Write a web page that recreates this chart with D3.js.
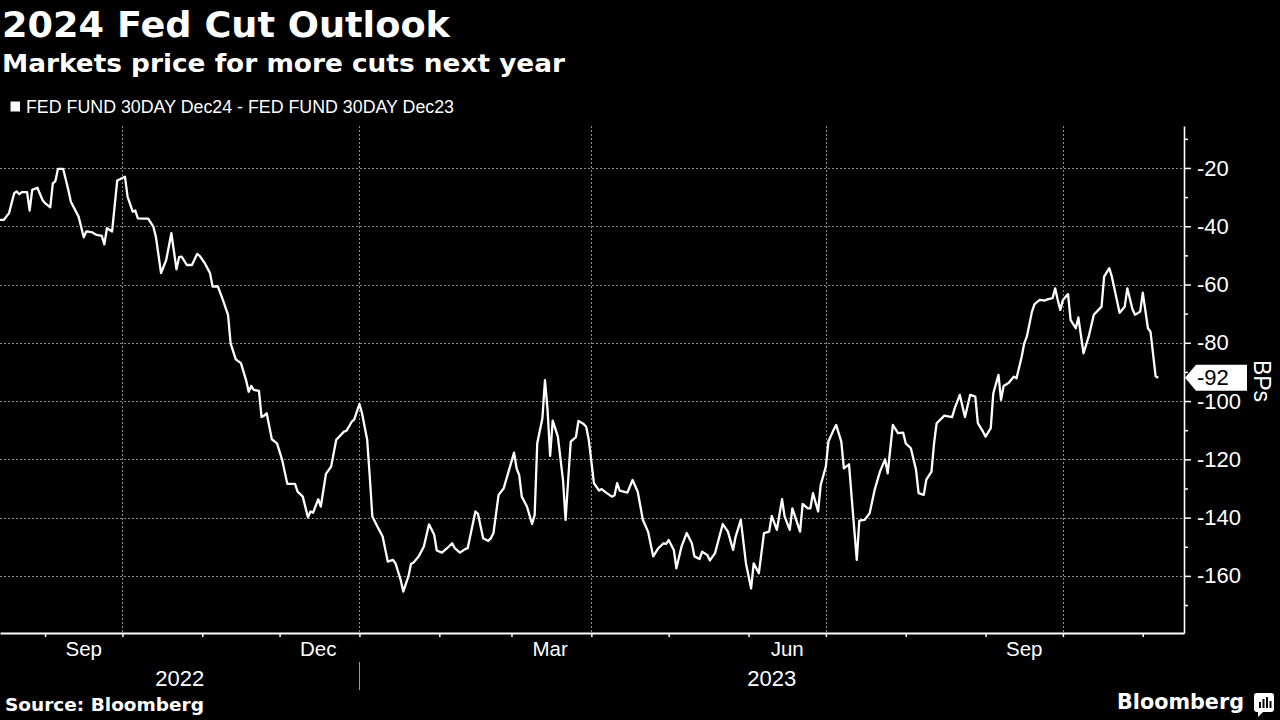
<!DOCTYPE html>
<html><head><meta charset="utf-8">
<script src="https://cdn.jsdelivr.net/npm/d3@7"></script>
<style>html,body{margin:0;padding:0;background:#000;}svg{display:block}</style>
</head><body>
<svg id="c" width="1280" height="720"></svg>
<script>
// ---------- DATA ----------
const dates = [
"2022-08-14","2022-08-16","2022-08-18","2022-08-20","2022-08-21","2022-08-22","2022-08-23","2022-08-25","2022-08-26","2022-08-27",
"2022-08-29","2022-08-31","2022-09-01","2022-09-03","2022-09-04","2022-09-05","2022-09-06","2022-09-08","2022-09-10","2022-09-11",
"2022-09-14","2022-09-16","2022-09-17","2022-09-19","2022-09-21","2022-09-23","2022-09-24","2022-09-25","2022-09-27","2022-09-29",
"2022-09-30","2022-10-02","2022-10-03","2022-10-05","2022-10-06","2022-10-07","2022-10-09","2022-10-11","2022-10-13","2022-10-14",
"2022-10-16","2022-10-18","2022-10-20","2022-10-22","2022-10-23","2022-10-24","2022-10-26","2022-10-28","2022-10-30","2022-10-31",
"2022-11-02","2022-11-04","2022-11-05","2022-11-07","2022-11-09","2022-11-11","2022-11-12","2022-11-14","2022-11-16","2022-11-18",
"2022-11-19","2022-11-20","2022-11-21","2022-11-23","2022-11-24","2022-11-25","2022-11-26","2022-11-28","2022-11-30","2022-12-02",
"2022-12-04","2022-12-07","2022-12-08","2022-12-10","2022-12-12","2022-12-13","2022-12-14","2022-12-16","2022-12-17","2022-12-19",
"2022-12-21","2022-12-23","2022-12-26","2022-12-27","2022-12-29","2022-12-30","2023-01-01","2023-01-02","2023-01-04","2023-01-05",
"2023-01-06","2023-01-08","2023-01-10","2023-01-12","2023-01-14","2023-01-15","2023-01-17","2023-01-18","2023-01-20","2023-01-21",
"2023-01-22","2023-01-24","2023-01-26","2023-01-28","2023-01-30","2023-01-31","2023-02-02","2023-02-04","2023-02-06","2023-02-07",
"2023-02-09","2023-02-11","2023-02-12","2023-02-15","2023-02-16","2023-02-18","2023-02-20","2023-02-21","2023-02-22","2023-02-24",
"2023-02-26","2023-03-02","2023-03-03","2023-03-04","2023-03-05","2023-03-07","2023-03-09","2023-03-10","2023-03-11","2023-03-13",
"2023-03-14","2023-03-15","2023-03-16","2023-03-17","2023-03-19","2023-03-21","2023-03-22","2023-03-23","2023-03-24","2023-03-26",
"2023-03-27","2023-03-29","2023-03-30","2023-03-31","2023-04-02","2023-04-04","2023-04-05","2023-04-07","2023-04-09","2023-04-10",
"2023-04-11","2023-04-12","2023-04-15","2023-04-17","2023-04-19","2023-04-21","2023-04-23","2023-04-25","2023-04-27","2023-04-29",
"2023-04-30","2023-05-01","2023-05-03","2023-05-04","2023-05-06","2023-05-08","2023-05-10","2023-05-11","2023-05-13","2023-05-14",
"2023-05-16","2023-05-17","2023-05-19","2023-05-22","2023-05-24","2023-05-26","2023-05-27","2023-05-29","2023-05-31","2023-06-02",
"2023-06-03","2023-06-05","2023-06-07","2023-06-09","2023-06-10","2023-06-12","2023-06-14","2023-06-15","2023-06-17","2023-06-18",
"2023-06-21","2023-06-22","2023-06-24","2023-06-25","2023-06-26","2023-06-28","2023-06-29","2023-07-01","2023-07-02","2023-07-04",
"2023-07-05","2023-07-07","2023-07-08","2023-07-10","2023-07-11","2023-07-13","2023-07-14","2023-07-16","2023-07-18","2023-07-20",
"2023-07-22","2023-07-24","2023-07-25","2023-07-27","2023-07-29","2023-07-31","2023-08-01","2023-08-03","2023-08-05","2023-08-06",
"2023-08-08","2023-08-09","2023-08-11","2023-08-12","2023-08-13","2023-08-16","2023-08-19","2023-08-20","2023-08-22","2023-08-24",
"2023-08-26","2023-08-28","2023-08-29","2023-08-31","2023-09-01","2023-09-03","2023-09-04","2023-09-06","2023-09-07","2023-09-08",
"2023-09-10","2023-09-12","2023-09-13","2023-09-15","2023-09-16","2023-09-17","2023-09-19","2023-09-20","2023-09-22","2023-09-24",
"2023-09-25","2023-09-27","2023-09-28","2023-09-29","2023-09-30","2023-10-01","2023-10-03","2023-10-04","2023-10-06","2023-10-07",
"2023-10-09","2023-10-11","2023-10-13","2023-10-16","2023-10-17","2023-10-19","2023-10-20","2023-10-23","2023-10-25","2023-10-26",
"2023-10-28","2023-10-29","2023-10-31","2023-11-01","2023-11-03","2023-11-04","2023-11-06","2023-11-07"
];
const bps = [
-37.8,-37.8,-35.5,-28.7,-28.1,-29.0,-28.3,-28.3,-34.6,-27.5,
-26.8,-31.0,-32.1,-33.5,-25.3,-24.5,-20.3,-20.3,-27.5,-31.6,
-36.7,-43.8,-41.8,-42.0,-43.0,-43.3,-46.2,-40.7,-41.8,-24.3,
-23.9,-23.0,-29.8,-35.0,-34.6,-37.3,-37.4,-37.4,-40.1,-43.6,
-56.1,-51.6,-42.4,-54.8,-50.6,-50.4,-53.3,-53.3,-49.5,-50.2,
-52.7,-56.1,-60.7,-60.6,-65.3,-70.4,-80.2,-85.7,-87.0,-92.8,
-96.8,-94.8,-96.2,-96.5,-105.5,-105.0,-104.2,-113.1,-114.5,-120.2,
-128.4,-128.4,-131.1,-132.8,-139.9,-137.9,-138.3,-133.7,-136.2,-125.0,
-122.5,-113.3,-110.5,-110.2,-107.1,-106.3,-101.0,-104.2,-113.3,-125.9,
-139.6,-143.1,-146.5,-155.1,-154.5,-155.7,-161.4,-165.4,-160.2,-155.9,
-155.4,-153.3,-149.9,-142.3,-145.9,-151.3,-152.0,-150.5,-148.8,-150.5,
-152.0,-150.8,-150.5,-137.9,-138.7,-147.1,-148.0,-147.1,-145.3,-132.2,
-129.9,-117.7,-123.1,-125.4,-132.8,-136.2,-142.2,-139.1,-114.5,-105.9,
-92.8,-103.0,-118.8,-106.7,-112.2,-127.1,-140.8,-127.1,-113.9,-112.4,
-106.8,-107.9,-108.8,-113.3,-128.2,-130.7,-130.2,-131.6,-132.8,-132.3,
-128.2,-130.7,-131.4,-127.1,-131.1,-140.8,-144.8,-153.3,-150.5,-148.8,
-149.0,-147.7,-151.1,-157.4,-149.9,-145.3,-148.8,-153.3,-154.2,-151.7,
-152.8,-154.7,-152.2,-142.2,-144.8,-151.1,-146.5,-140.8,-155.7,-164.3,
-155.7,-159.1,-145.3,-144.8,-139.4,-144.2,-133.7,-139.6,-144.2,-136.8,
-144.8,-135.3,-136.8,-136.8,-131.6,-137.9,-128.8,-122.5,-113.9,-109.9,
-108.2,-113.9,-123.1,-121.7,-132.8,-154.5,-141.0,-140.8,-138.5,-130.3,
-124.2,-120.0,-124.8,-108.2,-111.0,-110.8,-114.5,-116.2,-123.6,-131.6,
-132.2,-127.0,-124.2,-114.5,-107.6,-105.0,-105.5,-102.5,-97.9,-105.5,
-97.9,-98.5,-107.6,-110.5,-112.2,-109.3,-97.3,-91.0,-99.6,-94.8,
-93.7,-91.6,-92.2,-84.8,-80.2,-77.9,-69.3,-66.7,-65.3,-65.5,
-65.1,-64.7,-61.3,-65.3,-68.7,-65.3,-63.3,-72.2,-75.0,-71.3,
-83.6,-77.9,-70.4,-67.6,-57.3,-54.4,-57.3,-69.7,-67.6,-61.3,
-68.5,-70.4,-69.3,-62.8,-75.0,-76.2,-91.5,-92.0
];
const yMajorTicks = [-20,-40,-60,-80,-100,-120,-140,-160];
const yMinorTicks = [-10,-30,-50,-70,-90,-110,-130,-150,-170];
const monthTickDates = ["2022-09-01","2022-10-01","2022-11-01","2022-12-01","2023-01-01","2023-02-01","2023-03-01",
  "2023-04-01","2023-05-01","2023-06-01","2023-07-01","2023-08-01","2023-09-01","2023-10-01","2023-11-01"];
const gridDates = ["2022-10-01","2023-01-01","2023-04-01","2023-07-01","2023-10-01"];
const monthLabelDates = ["2022-09-16","2022-12-16","2023-03-16","2023-06-16","2023-09-16"];
const monthLabelTexts = ["Sep","Dec","Mar","Jun","Sep"];
const yearLabels = ["2022","2023"];
const yearBreak = "2023-01-01";
const lastValue = -92;
const titleText = "2024 Fed Cut Outlook";
const subtitleText = "Markets price for more cuts next year";
const legendText = "FED FUND 30DAY Dec24 - FED FUND 30DAY Dec23";
const sourceText = "Source: Bloomberg";
const unitText = "BPs";

// ---------- CHART ----------
(function(){
const parse = d3.utcParse("%Y-%m-%d");
const data = dates.map((d,i)=>({date: parse(d), v: bps[i]}));
const svg = d3.select("#c");
svg.append("rect").attr("width",1280).attr("height",720).attr("fill","#000");

const pL = 0, pR = 1184, pT = 126, pB = 633;
const x = d3.scaleTime()
  .domain([new Date(Date.UTC(2022,7,14,12)), new Date(Date.UTC(2023,10,17))])
  .range([pL, pR]);
const y = d3.scaleLinear().domain([-179.6, -5.6]).range([pB, pT]);

const boldFont = "'DejaVu Sans', sans-serif";
const regFont = "'Liberation Sans', Arial, sans-serif";

// titles
svg.append("text").attr("x",2).attr("y",37).attr("fill","#fff")
  .attr("font-family",boldFont).attr("font-weight","bold").attr("font-size",35)
  .attr("textLength",448).attr("lengthAdjust","spacingAndGlyphs").text(titleText);
svg.append("text").attr("x",2).attr("y",72).attr("fill","#fff")
  .attr("font-family",boldFont).attr("font-weight","bold").attr("font-size",25.5)
  .attr("textLength",563).attr("lengthAdjust","spacingAndGlyphs").text(subtitleText);
// legend
svg.append("rect").attr("x",10.5).attr("y",101.5).attr("width",9.5).attr("height",10).attr("fill","#fff");
svg.append("text").attr("x",26).attr("y",113).attr("fill","#fff")
  .attr("font-family",regFont).attr("font-size",18)
  .attr("textLength",428).attr("lengthAdjust","spacingAndGlyphs").text(legendText);

// gridlines
const grid = svg.append("g").attr("stroke","#8a8a8a").attr("stroke-width",1).attr("stroke-dasharray","2,2");
grid.selectAll("line.h").data(yMajorTicks).join("line").attr("class","h")
  .attr("x1",pL).attr("x2",pR).attr("y1",d=>Math.round(y(d))+0.5).attr("y2",d=>Math.round(y(d))+0.5);
grid.selectAll("line.v").data(gridDates).join("line").attr("class","v")
  .attr("x1",d=>Math.round(x(parse(d)))+0.5).attr("x2",d=>Math.round(x(parse(d)))+0.5)
  .attr("y1",pT).attr("y2",pB);

// line
svg.append("clipPath").attr("id","clip").append("rect").attr("x",pL).attr("y",pT).attr("width",pR-pL).attr("height",pB-pT);
svg.append("path").datum(data).attr("clip-path","url(#clip)")
  .attr("fill","none").attr("stroke","#fff").attr("stroke-width",2.3).attr("stroke-linejoin","round")
  .attr("d", d3.line().x(d=>x(d.date)).y(d=>y(d.v)));

// y axis
const yAxis = svg.append("g").attr("transform",`translate(${pR},0)`)
  .call(d3.axisRight(y).tickValues(yMajorTicks).tickSize(7).tickSizeOuter(0).tickPadding(6).tickFormat(d=>String(d)));
yAxis.select(".domain").attr("stroke","#fff").attr("stroke-width",1.6);
yAxis.selectAll(".tick line").attr("stroke","#fff").attr("stroke-width",1.5);
yAxis.selectAll(".tick text").attr("fill","#fff").attr("font-family",regFont).attr("font-size",22);
const yMinor = svg.append("g").attr("transform",`translate(${pR},0)`)
  .call(d3.axisRight(y).tickValues(yMinorTicks).tickSize(4).tickFormat(""));
yMinor.select(".domain").remove();
yMinor.selectAll(".tick line").attr("stroke","#fff").attr("stroke-width",1.5);

// x axis
const xAxis = svg.append("g").attr("transform",`translate(0,${pB})`)
  .call(d3.axisBottom(x).tickValues(monthTickDates.map(parse)).tickSize(4).tickSizeOuter(0).tickFormat(""));
xAxis.select(".domain").attr("stroke","#fff").attr("stroke-width",2);
xAxis.selectAll(".tick line").attr("stroke","#fff").attr("stroke-width",1.5);

svg.append("g").selectAll("text").data(monthLabelDates).join("text")
  .attr("x",d=>x(parse(d))).attr("y",656).attr("text-anchor","middle").attr("fill","#fff")
  .attr("font-family",regFont).attr("font-size",20.5).text((d,i)=>monthLabelTexts[i]);

const xb = x(parse(yearBreak));
const yearCenters = [(pL+xb)/2, (xb+pR)/2];
svg.append("g").selectAll("text").data(yearLabels).join("text")
  .attr("x",(d,i)=>yearCenters[i]).attr("y",686).attr("text-anchor","middle").attr("fill","#fff")
  .attr("font-family",regFont).attr("font-size",22).text(d=>d);
svg.append("line").attr("x1",Math.round(xb)+0.5).attr("x2",Math.round(xb)+0.5).attr("y1",662).attr("y2",690)
  .attr("stroke","#9a9a9a").attr("stroke-width",1);

// unit label
svg.append("text").attr("transform","translate(1262,381) rotate(90)").attr("text-anchor","middle")
  .attr("dominant-baseline","central").attr("fill","#fff").attr("font-family",regFont).attr("font-size",23).text(unitText);

// last value tag
const yv = y(lastValue);
svg.append("path").attr("fill","#fff")
  .attr("d",`M${pR+1},${yv} L${pR+12},${yv-13} L1247,${yv-13} L1247,${yv+13} L${pR+12},${yv+13} Z`);
svg.append("text").attr("x",pR+13).attr("y",yv).attr("dominant-baseline","central").attr("fill","#000")
  .attr("font-family",regFont).attr("font-size",22).text(String(lastValue));

// footer
svg.append("text").attr("x",5).attr("y",711).attr("fill","#fff")
  .attr("font-family",boldFont).attr("font-weight","bold").attr("font-size",17.5)
  .attr("textLength",199).attr("lengthAdjust","spacingAndGlyphs").text(sourceText);
svg.append("text").attr("x",1244).attr("y",709).attr("text-anchor","end").attr("fill","#fff")
  .attr("font-family",boldFont).attr("font-weight","bold").attr("font-size",20.5)
  .attr("textLength",127).attr("lengthAdjust","spacingAndGlyphs").text("Bloomberg");
const logo = svg.append("g").attr("transform","translate(1254,693)");
logo.append("rect").attr("x",0).attr("y",0).attr("width",20).attr("height",19).attr("rx",3).attr("fill","#fff");
logo.append("path").attr("d","M4,19 L4,24 L9,19 Z").attr("fill","#fff");
[[5,9,2,6],[8.5,6,2,9],[12,4,2,11],[15.5,8,2,7]].forEach(b=>
  logo.append("rect").attr("x",b[0]).attr("y",b[1]).attr("width",b[2]).attr("height",b[3]).attr("fill","#000"));
})();
</script>
</body></html>
